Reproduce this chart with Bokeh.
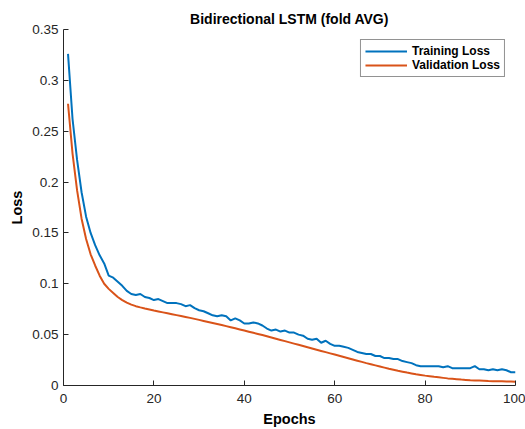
from bokeh.plotting import figure
from bokeh.models import FixedTicker, Legend, LegendItem, Range1d, Title
from bokeh.embed import file_html
from bokeh.resources import INLINE

epochs = list(range(1, 101))
training_loss = [
    0.326, 0.262, 0.222, 0.190, 0.166, 0.150, 0.138, 0.128, 0.120, 0.108,
    0.106, 0.102, 0.098, 0.093, 0.090, 0.089, 0.090, 0.087, 0.086, 0.084,
    0.085, 0.083, 0.081, 0.081, 0.081, 0.080, 0.078, 0.079, 0.076, 0.074,
    0.073, 0.071, 0.069, 0.068, 0.069, 0.068, 0.064, 0.066, 0.064, 0.061,
    0.061, 0.062, 0.061, 0.059, 0.056, 0.054, 0.055, 0.053, 0.054, 0.052,
    0.052, 0.050, 0.049, 0.046, 0.045, 0.046, 0.042, 0.044, 0.041, 0.039,
    0.039, 0.038, 0.037, 0.035, 0.033, 0.032, 0.031, 0.031, 0.029, 0.029,
    0.027, 0.027, 0.026, 0.026, 0.024, 0.023, 0.022, 0.020, 0.019, 0.019,
    0.019, 0.019, 0.019, 0.018, 0.019, 0.017, 0.017, 0.017, 0.017, 0.017,
    0.019, 0.016, 0.016, 0.015, 0.016, 0.015, 0.016, 0.015, 0.013, 0.013,
]
validation_loss = [
    0.277, 0.228, 0.192, 0.164, 0.144, 0.129, 0.118, 0.108, 0.100, 0.095,
    0.091, 0.087, 0.084, 0.0815, 0.0795, 0.078, 0.0768, 0.0757, 0.0747, 0.0737,
    0.0728, 0.0719, 0.0710, 0.0701, 0.0692, 0.0683, 0.0674, 0.0665, 0.0655, 0.0645,
    0.0635, 0.0625, 0.0615, 0.0605, 0.0595, 0.0584, 0.0573, 0.0562, 0.0551, 0.0540,
    0.0529, 0.0518, 0.0507, 0.0496, 0.0484, 0.0472, 0.0460, 0.0448, 0.0436, 0.0424,
    0.0412, 0.0400, 0.0388, 0.0376, 0.0364, 0.0352, 0.0340, 0.0328, 0.0316, 0.0304,
    0.0292, 0.0280, 0.0268, 0.0256, 0.0244, 0.0232, 0.0220, 0.0209, 0.0198, 0.0187,
    0.0176, 0.0165, 0.0155, 0.0145, 0.0136, 0.0127, 0.0119, 0.0111, 0.0104, 0.0097,
    0.0091, 0.0085, 0.0080, 0.0075, 0.0070, 0.0066, 0.0062, 0.0058, 0.0055, 0.0052,
    0.0050, 0.0048, 0.0046, 0.0044, 0.0043, 0.0042, 0.0041, 0.0040, 0.0039, 0.0038,
]
x_ticks = [0, 20, 40, 60, 80, 100]
y_ticks = [0, 0.05, 0.1, 0.15, 0.2, 0.25, 0.3, 0.35]
y_tick_labels = ["0", "0.05", "0.1", "0.15", "0.2", "0.25", "0.3", "0.35"]
series_names = ["Training Loss", "Validation Loss"]
title_text = "Bidirectional LSTM (fold AVG)"

FONT = "Liberation Sans"
AX = "#262626"

p = figure(width=525, height=429, output_backend="svg", toolbar_location=None,
           x_range=Range1d(0, 100), y_range=Range1d(0, 0.35),
           min_border_left=63, min_border_right=10, min_border_top=29,
           min_border_bottom=44)
p.title = Title(text=title_text, align="center", text_font=FONT,
                text_font_size="14px", text_font_style="bold", text_color="black",
                offset=0, standoff=5)
p.outline_line_color = None
p.background_fill_color = "white"
p.border_fill_color = "white"
p.grid.visible = False

r1 = p.line(epochs, training_loss, line_color="#0072BD", line_width=2)
r2 = p.line(epochs, validation_loss, line_color="#D95319", line_width=2)

for ax in (p.xaxis[0], p.yaxis[0]):
    ax.axis_line_color = AX
    ax.major_tick_line_color = AX
    ax.major_tick_in = 5
    ax.major_tick_out = 0
    ax.minor_tick_line_color = None
    ax.major_label_text_font = FONT
    ax.major_label_text_font_size = "13.5px"
    ax.major_label_text_color = AX
    ax.axis_label_text_font = FONT
    ax.axis_label_text_font_size = "14.5px"
    ax.axis_label_text_font_style = "bold"
    ax.axis_label_text_color = "black"

p.xaxis.ticker = FixedTicker(ticks=x_ticks)
p.yaxis.ticker = FixedTicker(ticks=y_ticks)
p.yaxis.major_label_overrides = dict(zip(y_ticks, y_tick_labels))
p.xaxis.axis_label = "Epochs"
p.yaxis.axis_label = "Loss"
p.xaxis.major_label_standoff = 8
p.yaxis.major_label_standoff = 5
p.xaxis.axis_label_standoff = 5
p.yaxis.axis_label_standoff = 4

legend = Legend(items=[LegendItem(label=series_names[0], renderers=[r1]),
                       LegendItem(label=series_names[1], renderers=[r2])],
                location="top_right", margin=10, padding=4, spacing=0,
                glyph_width=42, glyph_height=14, label_height=14,
                label_standoff=5, label_text_font=FONT,
                label_text_font_size="12px", label_text_font_style="bold",
                label_text_color="black", border_line_color="#262626",
                border_line_width=1, background_fill_alpha=1.0)
p.add_layout(legend)

open("out.html", "w").write(file_html(p, INLINE))
